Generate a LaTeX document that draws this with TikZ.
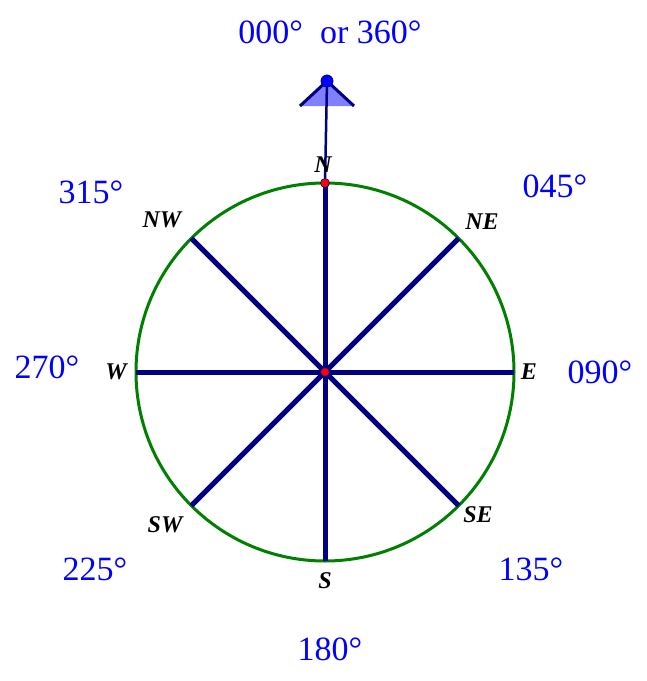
\documentclass[tikz,border=0pt]{standalone}
\usepackage{fontspec}
\setmainfont{Liberation Serif}
\usetikzlibrary{calc}
\definecolor{navyc}{RGB}{0,0,128}
\definecolor{greenc}{RGB}{0,128,0}
\definecolor{lightb}{RGB}{128,128,255}
\definecolor{bluec}{RGB}{0,0,255}
\begin{document}
\begin{tikzpicture}[x=1pt,y=-1pt,
  rim/.style={draw=greenc, line width=3pt},
  spoke/.style={draw=navyc, line width=5pt},
  deg/.style={anchor=base, text=bluec, inner sep=0pt, font=\fontsize{34}{34}\selectfont},
  dirlab/.style={anchor=base, text=black, inner sep=0pt, font=\fontsize{24}{24}\selectfont\bfseries\itshape},
  reddot/.style={circle, fill=red, draw=navyc, line width=0.6pt, minimum size=9pt, inner sep=0pt},
  tipdot/.style={circle, fill=bluec, draw=navyc, line width=0.8pt, minimum size=12pt, inner sep=0pt}]
\useasboundingbox (0,0) rectangle (647,681);
\fill[white] (0,0) rectangle (647,681);
\coordinate (O) at (325,372);
\draw[rim] (O) circle[radius=189pt];
\foreach \a/\n in {90/N,45/NE,0/E,-45/SE,-90/S,-135/SW,180/W,135/NW}{
  \coordinate (\n) at ($(O)+(\a:189pt)$);
  \draw[spoke] (O) -- (\n);
}
% pointer
\coordinate (T) at (327,81);
\coordinate (TL) at (300,106);
\coordinate (TR) at (354,106);
\fill[lightb] (T) -- (TL) -- (TR) -- cycle;
\draw[navyc, line width=3pt] (TL) -- (T) -- (TR);
\draw[navyc, line width=2.5pt] (N) -- (T);
\node[tipdot] (tip) at (T) {};
\node[reddot] (ndot) at (N) {};
\node[reddot] (odot) at (O) {};
% direction letters
\node[dirlab] (lN) at (323,172) {N};
\node[dirlab] (lNE) at (482,229) {NE};
\node[dirlab] (lE) at (529,379) {E};
\node[dirlab] (lSE) at (478,522) {SE};
\node[dirlab] (lS) at (325,588) {S};
\node[dirlab] (lSW) at (165,532) {SW};
\node[dirlab] (lW) at (116,379) {W};
\node[dirlab] (lNW) at (162,227) {NW};
% bearings
\node[deg] (d0) at (330,43) {000°\ \ or 360°};
\node[deg] (d45) at (555,197) {045°};
\node[deg] (d90) at (600,383) {090°};
\node[deg] (d135) at (531,580) {135°};
\node[deg] (d180) at (330,660) {180°};
\node[deg] (d225) at (95,580) {225°};
\node[deg] (d270) at (47,378) {270°};
\node[deg] (d315) at (91,203) {315°};
\end{tikzpicture}
\end{document}
